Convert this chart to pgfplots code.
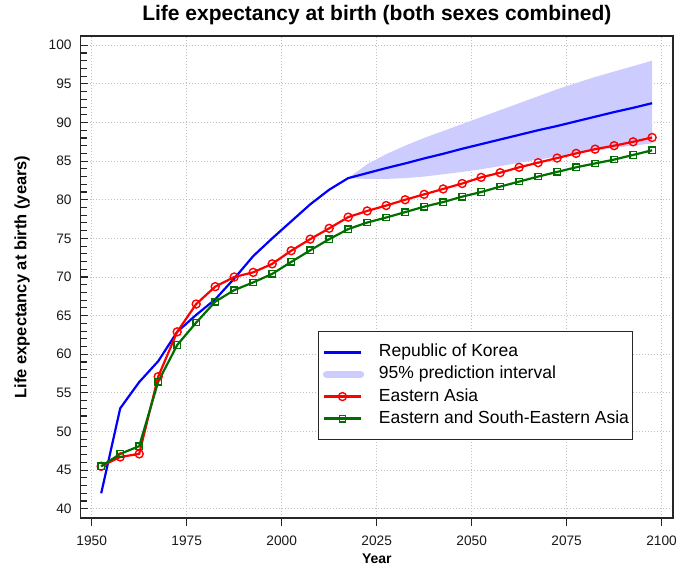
\documentclass[border=0pt]{standalone}
\usepackage{fontspec}
\setmainfont{Liberation Sans}
\usepackage{pgfplots}
\pgfplotsset{compat=1.18}
\definecolor{bandcol}{RGB}{204,204,255}
\definecolor{dgreen}{RGB}{0,110,0}
\definecolor{gridcol}{RGB}{192,192,192}
\definecolor{korblue}{RGB}{0,0,255}
\definecolor{eared}{RGB}{255,0,0}

\begin{document}
\begin{tikzpicture}
\useasboundingbox (0,0) rectangle (695bp,566bp);
\begin{axis}[
  at={(80.7bp,48bp)}, anchor=south west,
  scale only axis, width=592.3bp, height=482bp,
  xmin=1947.1, xmax=2103, ymin=38.8, ymax=101.2,
  axis line style={black!85, line width=1.3bp},
  xtick={1950,1975,...,2100},
  ytick={40,45,...,100},
  minor y tick num=4,
  xtick pos=bottom, ytick pos=left,
  tick align=outside,
  major tick length=7.5bp, minor tick length=6bp,
  tick style={black!85, line width=1.1bp},
  every major y tick/.append style={xshift=7.5bp},
  every minor y tick/.append style={xshift=6bp},
  grid=major,
  major grid style={draw=gridcol, dash pattern=on 1.5bp off 1.5bp, line width=0.9bp},
  /pgf/number format/assume math mode=true,
  ticklabel style={font=\fontsize{13.7bp}{16bp}\selectfont, inner sep=0pt, text=black!90},
  xticklabel style={/pgf/number format/1000 sep={}, anchor=center, yshift=-15bp},
  yticklabel style={anchor=east, xshift=-1.5bp},
  title={Life expectancy at birth (both sexes combined)},
  title style={font=\bfseries\fontsize{21bp}{24bp}\selectfont, at={(0.5,1)}, anchor=base, yshift=9.5bp, inner sep=0pt},
  xlabel={Year},
  xlabel style={font=\bfseries\fontsize{14bp}{17bp}\selectfont, at={(axis description cs:0.5,0)}, anchor=north, yshift=-35.5bp, inner sep=0pt},
  ylabel={Life expectancy at birth (years)},
  ylabel style={font=\bfseries\fontsize{16.5bp}{19bp}\selectfont, at={(axis description cs:-0.0991,0.5)}, anchor=center, inner sep=0pt},
  legend style={at={(0.4006,0.388)}, anchor=north west, draw=black!85, line width=1bp,
    font=\fontsize{17.5bp}{21bp}\selectfont,
    inner xsep=4bp, inner ysep=12.7bp, row sep=6.2bp, column sep=14.7bp,
    nodes={inner sep=0pt, text height=12.5bp, text depth=3.5bp},
    cells={anchor=west}},
  legend image code/.code={\draw[mark repeat=2, mark phase=2, #1, line width=3bp] plot coordinates {(0bp,0bp) (18.5bp,0bp) (37bp,0bp)};},
]
% 95% prediction interval (upper forward, lower backward)
\addplot[fill=bandcol, draw=none, forget plot] coordinates {
(2017.5,82.8) (2022.5,84.6) (2027.5,85.9) (2032.5,87.0) (2037.5,88.0) (2042.5,88.9)
(2047.5,89.8) (2052.5,90.7) (2057.5,91.6) (2062.5,92.5) (2067.5,93.4) (2072.5,94.3)
(2077.5,95.1) (2082.5,95.9) (2087.5,96.6) (2092.5,97.3) (2097.5,98.0)
(2097.5,87.3) (2092.5,87.0) (2087.5,86.7) (2082.5,86.35) (2077.5,86.0) (2072.5,85.6)
(2067.5,85.2) (2062.5,84.8) (2057.5,84.35) (2052.5,83.95) (2047.5,83.6) (2042.5,83.3)
(2037.5,83.0) (2032.5,82.8) (2027.5,82.7) (2022.5,82.7) (2017.5,82.8)
} -- cycle;

% Republic of Korea
\addplot[korblue, line width=2.2bp, no marks] coordinates {
(1952.5,42.0) (1957.5,53.0) (1962.5,56.4) (1967.5,59.1) (1972.5,62.9) (1977.5,65.1)
(1982.5,67.1) (1987.5,69.8) (1992.5,72.7) (1997.5,75.0) (2002.5,77.2) (2007.5,79.4)
(2012.5,81.3) (2017.5,82.8) (2022.5,83.45) (2027.5,84.1) (2032.5,84.7) (2037.5,85.35)
(2042.5,85.95) (2047.5,86.6) (2052.5,87.2) (2057.5,87.8) (2062.5,88.4) (2067.5,89.0)
(2072.5,89.55) (2077.5,90.15) (2082.5,90.75) (2087.5,91.35) (2092.5,91.9) (2097.5,92.5)
};
\addlegendentry{Republic of Korea}

\addlegendimage{legend image code/.code={\draw[bandcol, line width=7.5bp, line cap=round] (2.7bp,0bp) -- (36.5bp,0bp);}}
\addlegendentry{95\% prediction interval}

% Eastern Asia
\addplot[eared, line width=2.2bp, mark=o, mark size=4bp, mark options={line width=1.4bp}] coordinates {
(1952.5,45.5) (1957.5,46.7) (1962.5,47.1) (1967.5,57.1) (1972.5,62.9) (1977.5,66.5)
(1982.5,68.75) (1987.5,70.0) (1992.5,70.6) (1997.5,71.7) (2002.5,73.4) (2007.5,74.9)
(2012.5,76.3) (2017.5,77.75) (2022.5,78.55) (2027.5,79.25) (2032.5,80.0) (2037.5,80.7)
(2042.5,81.4) (2047.5,82.1) (2052.5,82.9) (2057.5,83.5) (2062.5,84.2) (2067.5,84.8)
(2072.5,85.4) (2077.5,86.0) (2082.5,86.55) (2087.5,87.0) (2092.5,87.5) (2097.5,88.06)
};
\addlegendentry{Eastern Asia}

% Eastern and South-Eastern Asia
\addplot[dgreen, line width=2.2bp, mark=square, mark size=3.2bp, mark options={line width=1.3bp}] coordinates {
(1952.5,45.5) (1957.5,47.1) (1962.5,48.1) (1967.5,56.45) (1972.5,61.2) (1977.5,64.1)
(1982.5,66.8) (1987.5,68.3) (1992.5,69.3) (1997.5,70.4) (2002.5,71.95) (2007.5,73.45)
(2012.5,74.9) (2017.5,76.2) (2022.5,77.05) (2027.5,77.7) (2032.5,78.4) (2037.5,79.1)
(2042.5,79.7) (2047.5,80.4) (2052.5,81.0) (2057.5,81.7) (2062.5,82.35) (2067.5,83.0)
(2072.5,83.6) (2077.5,84.2) (2082.5,84.7) (2087.5,85.2) (2092.5,85.8) (2097.5,86.4)
};
\addlegendentry{Eastern and South-Eastern Asia\hspace{4.3bp}}
\end{axis}
\end{tikzpicture}
\end{document}
